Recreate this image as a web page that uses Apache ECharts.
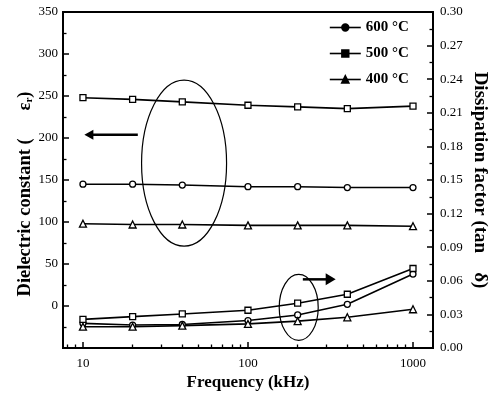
<!DOCTYPE html>
<html>
<head>
<meta charset="utf-8">
<script src="https://cdn.jsdelivr.net/npm/echarts@6/dist/echarts.min.js"></script>
<style>
html,body{margin:0;padding:0;background:#fff;}
#c{width:489px;height:394px;}
</style>
</head>
<body>
<div id="c"></div>
<script>
// ---- data ----
const freqKHz = [10, 20, 40, 100, 200, 400, 1000];
const eps600 = [145, 145, 144, 142, 142, 141, 141];
const eps500 = [248, 246, 243, 239, 237, 235, 238];
const eps400 = [98, 97, 97, 96, 96, 96, 95];
const tan600 = [0.022, 0.0205, 0.021, 0.0245, 0.0295, 0.039, 0.066];
const tan500 = [0.0256, 0.028, 0.0304, 0.0337, 0.040, 0.048, 0.071];
const tan400 = [0.019, 0.019, 0.020, 0.0215, 0.024, 0.0274, 0.0346];
const seriesNames = ['600 °C', '500 °C', '400 °C'];
const majorFreqTicks = [10, 100, 1000];
const minorFreqTicks = [8, 9, 20, 30, 40, 50, 60, 70, 80, 90, 200, 300, 400, 500, 600, 700, 800, 900];

const FONT = 'Liberation Serif';
const lg = v => Math.log10(v);
const pairs = (ys) => freqKHz.map((f, i) => [lg(f), ys[i]]);

const chart = echarts.init(document.getElementById('c'), null, {renderer: 'canvas'});

const markerStyle = {color: '#fff', borderColor: '#000', borderWidth: 1.3};
function mkSeries(name, ys, yIdx, symbol, size) {
  return {
    name: name, type: 'line', xAxisIndex: 0, yAxisIndex: yIdx,
    data: pairs(ys), symbol: symbol, symbolSize: size, showAllSymbol: true,
    lineStyle: {color: '#000', width: 1.6},
    itemStyle: markerStyle,
    emphasis: {disabled: true}, animation: false
  };
}

const axisFont = {color: '#000', fontFamily: FONT, fontSize: 13};
const nameFont = {color: '#000', fontFamily: FONT, fontSize: 17, fontWeight: 'bold'};

const option = {
  animation: false,
  backgroundColor: '#fff',
  grid: {left: 63, right: 56, top: 12, bottom: 46, outerBoundsMode: 'none', containLabel: false,
         show: true, borderColor: '#000', borderWidth: 1.8, backgroundColor: 'transparent'},
  legend: {
    orient: 'vertical', left: 324, top: 15, itemGap: 11, itemWidth: 31, itemHeight: 8,
    data: seriesNames,
    textStyle: {color: '#000', fontFamily: FONT, fontSize: 15, fontWeight: 'bold'},
    itemStyle: {color: '#000', borderColor: '#000'},
    lineStyle: {color: '#000', width: 1.6},
    selectedMode: false
  },
  xAxis: [
    {
      type: 'value', position: 'bottom', min: lg(7.57), max: lg(1322),
      axisLine: {onZero: false, lineStyle: {color: '#000', width: 2}},
      axisTick: {inside: true, length: 6, customValues: majorFreqTicks.map(lg), lineStyle: {color: '#000', width: 1.5}},
      axisLabel: {customValues: majorFreqTicks.map(lg), formatter: v => String(Math.round(Math.pow(10, v))), margin: 9, ...axisFont},
      splitLine: {show: false},
      name: 'Frequency (kHz)', nameLocation: 'middle', nameGap: 26, nameMoveOverlap: false, nameTextStyle: nameFont
    },
    {
      type: 'value', position: 'bottom', min: lg(7.57), max: lg(1322),
      axisLine: {show: false, onZero: false},
      axisTick: {inside: true, length: 3.5, customValues: minorFreqTicks.map(lg), lineStyle: {color: '#000', width: 1.3}},
      axisLabel: {show: false},
      splitLine: {show: false}
    }
  ],
  yAxis: [
    {
      type: 'value', position: 'left', min: -50, max: 350, interval: 50,
      axisLine: {show: true, onZero: false, lineStyle: {color: '#000', width: 2}},
      axisTick: {show: true, inside: true, length: 6, lineStyle: {color: '#000', width: 1.5}},
      minorTick: {show: true, splitNumber: 2, length: 3.5, lineStyle: {color: '#000', width: 1.3}},
      axisLabel: {showMinLabel: false, margin: 5, ...axisFont},
      splitLine: {show: false},
      name: 'Dielectric constant (      ε{sub|r})', nameLocation: 'middle', nameRotate: 90, nameGap: 28, nameMoveOverlap: false,
      nameTextStyle: {...nameFont, fontSize: 18.5, padding: [0, 28, 0, 0], rich: {sub: {fontFamily: FONT, fontSize: 11, fontWeight: 'bold', color: '#000', padding: [8, 0, 0, 0]}}}
    },
    {
      type: 'value', position: 'right', min: 0, max: 0.30, interval: 0.03,
      axisLine: {show: true, onZero: false, lineStyle: {color: '#000', width: 2}},
      axisTick: {show: true, inside: true, length: 6, lineStyle: {color: '#000', width: 1.5}},
      minorTick: {show: true, splitNumber: 2, length: 3.5, lineStyle: {color: '#000', width: 1.3}},
      axisLabel: {formatter: v => v.toFixed(2), margin: 7, ...axisFont},
      splitLine: {show: false},
      name: 'Dissipation factor (tan    δ)', nameLocation: 'middle', nameRotate: -90, nameGap: 37, nameMoveOverlap: false,
      nameTextStyle: {...nameFont, fontSize: 19}
    }
  ],
  series: [
    mkSeries(seriesNames[0], eps600, 0, 'circle', 6),
    mkSeries(seriesNames[1], eps500, 0, 'rect', 6),
    mkSeries(seriesNames[2], eps400, 0, 'triangle', 7),
    mkSeries(seriesNames[0], tan600, 1, 'circle', 6),
    mkSeries(seriesNames[1], tan500, 1, 'rect', 6),
    mkSeries(seriesNames[2], tan400, 1, 'triangle', 7)
  ]
};
chart.setOption(option);

// ---- annotations anchored in data coordinates ----
const bigEllipse = {freq: 41, eps: 170, rx: 42.5, ry: 83};
const smallEllipse = {freq: 203, tan: 0.0362, rx: 19.5, ry: 33};
const leftArrow = {fromFreq: 21.5, toFreq: 10.2, eps: 204};
const rightArrow = {fromFreq: 215, toFreq: 340, tan: 0.0613};

function px(freq, val, yIdx) {
  return chart.convertToPixel({xAxisIndex: 0, yAxisIndex: yIdx}, [lg(freq), val]);
}
const b = px(bigEllipse.freq, bigEllipse.eps, 0);
const s = px(smallEllipse.freq, smallEllipse.tan, 1);
const la0 = px(leftArrow.fromFreq, leftArrow.eps, 0);
const la1 = px(leftArrow.toFreq, leftArrow.eps, 0);
const ra0 = px(rightArrow.fromFreq, rightArrow.tan, 1);
const ra1 = px(rightArrow.toFreq, rightArrow.tan, 1);

chart.setOption({
  graphic: [
    {type: 'ellipse', shape: {cx: b[0], cy: b[1], rx: bigEllipse.rx, ry: bigEllipse.ry}, style: {fill: 'none', stroke: '#000', lineWidth: 1.2}, silent: true},
    {type: 'ellipse', shape: {cx: s[0], cy: s[1], rx: smallEllipse.rx, ry: smallEllipse.ry}, style: {fill: 'none', stroke: '#000', lineWidth: 1.2}, silent: true},
    {type: 'line', shape: {x1: la0[0], y1: la0[1], x2: la1[0] + 7, y2: la1[1]}, style: {stroke: '#000', lineWidth: 2.5}, silent: true},
    {type: 'polygon', shape: {points: [[la1[0], la1[1]], [la1[0] + 9, la1[1] - 5], [la1[0] + 9, la1[1] + 5]]}, style: {fill: '#000'}, silent: true},
    {type: 'line', shape: {x1: ra0[0], y1: ra0[1], x2: ra1[0] - 7, y2: ra1[1]}, style: {stroke: '#000', lineWidth: 2.5}, silent: true},
    {type: 'polygon', shape: {points: [[ra1[0], ra1[1]], [ra1[0] - 10, ra1[1] - 6], [ra1[0] - 10, ra1[1] + 6]]}, style: {fill: '#000'}, silent: true}
  ]
});
</script>
</body>
</html>
